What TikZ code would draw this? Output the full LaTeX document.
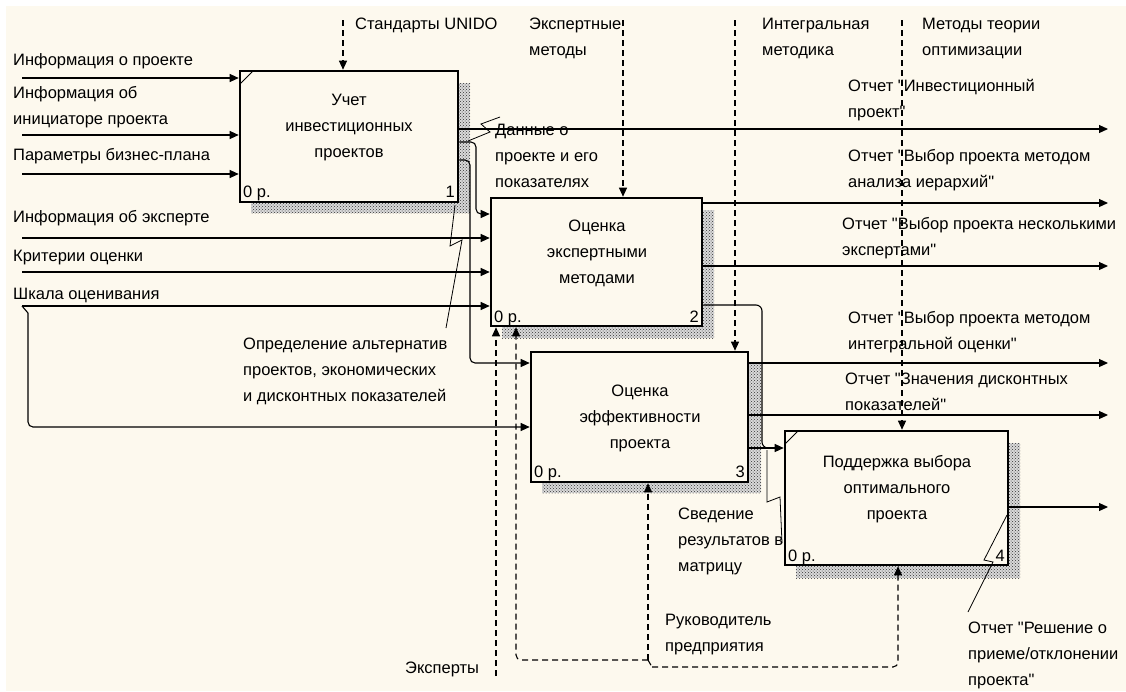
\documentclass[tikz,border=0pt]{standalone}
\usepackage{fontspec}
\setmainfont{Liberation Sans}[Ligatures=TeXOff]
\usetikzlibrary{arrows.meta,patterns}
\definecolor{bg}{RGB}{253,249,238}
\begin{document}
\begin{tikzpicture}[x=1pt,y=-1pt,
  txt/.style={inner sep=0pt, font=\fontsize{16.5}{26}\selectfont, align=left, anchor=base west},
  ctr/.style={inner sep=0pt, font=\fontsize{16.5}{26}\selectfont, align=center, anchor=base},
  box/.style={draw, line width=2.6pt, fill=bg, inner sep=0pt},
  shadebase/.style={fill=black!15},
  shade/.style={pattern=crosshatch dots, pattern color=black!80},
  flow/.style={line width=1.1pt, -{Triangle[length=9pt,width=8pt]}},
  ctl/.style={flow, dash pattern=on 6pt off 4pt},
  plain/.style={line width=1.1pt},
  squig/.style={line width=0.8pt},
]
\useasboundingbox (0,0) rectangle (1126,691);
\fill[white] (0,0) rectangle (1126,691);
\fill[bg] (6,6) rectangle (1126,691);

% shadows
\foreach \a/\b/\c/\d in {251/83/470/213, 502/210/714/338, 542/364/761/493, 796/443/1020/578}{
  \fill[shadebase] (\a,\b) rectangle (\c,\d);
  \fill[shade] (\a,\b) rectangle (\c,\d);
}

% boxes
\node[box, minimum width=218pt, minimum height=131pt] (b1) at (349,136.5) {};
\node[box, minimum width=211pt, minimum height=128pt] (b2) at (596.5,262) {};
\node[box, minimum width=217pt, minimum height=130pt] (b3) at (639.5,417) {};
\node[box, minimum width=223pt, minimum height=134pt] (b4) at (896.5,498) {};
\draw[line width=1pt] (240,84) -- (253,71);
\draw[line width=1pt] (785,444) -- (798,431);

% box texts
\node[ctr] (t1) at (349,157) {Учет\\инвестиционных\\проектов};
\node[ctr] (t2) at (597,283) {Оценка\\экспертными\\методами};
\node[ctr] (t3) at (640,448) {Оценка\\эффективности\\проекта};
\node[ctr] (t4) at (897,519) {Поддержка выбора\\оптимального\\проекта};
\node[txt] (n1a) at (243,197) {0 р.};
\node[txt, anchor=base east] (n1b) at (455,197) {1};
\node[txt] (n2a) at (494,322) {0 р.};
\node[txt, anchor=base east] (n2b) at (699,322) {2};
\node[txt] (n3a) at (534,477) {0 р.};
\node[txt, anchor=base east] (n3b) at (745,477) {3};
\node[txt] (n4a) at (788,561) {0 р.};
\node[txt, anchor=base east] (n4b) at (1005,561) {4};

% inputs
\coordinate (i1) at (22,78);
\coordinate (i2) at (22,135);
\coordinate (i3) at (22,174);
\coordinate (i4) at (22,238);
\coordinate (i5) at (22,272);
\coordinate (i6) at (22,306);
\draw[flow] (i1) -- (i1 -| b1.west);
\draw[flow] (i2) -- (i2 -| b1.west);
\draw[flow] (i3) -- (i3 -| b1.west);
\draw[flow] (i4) -- (i4 -| b2.west);
\draw[flow] (i5) -- (i5 -| b2.west);
\draw[flow] (i6) -- (i6 -| b2.west);
\coordinate (i6b) at (28,313);
\coordinate (i6c) at (28,427);
\draw[plain] (i6) -- (i6b);
\draw[flow, rounded corners=5pt] (i6b) -- (i6c) -- (i6c -| b3.west);
\node[txt] (li1) at (13,65) {Информация о проекте};
\node[txt] (li2) at (13,124) {Информация об\\инициаторе проекта};
\node[txt] (li3) at (13,160) {Параметры бизнес-плана};
\node[txt] (li4) at (13,222) {Информация об эксперте};
\node[txt] (li5) at (13,261) {Критерии оценки};
\node[txt] (li6) at (13,299) {Шкала оценивания};

% controls
\coordinate (c1) at (343,20);
\coordinate (c2) at (623,20);
\coordinate (c3) at (735,20);
\coordinate (c4) at (902,20);
\draw[ctl] (c1) -- (c1 |- b1.north);
\draw[ctl] (c2) -- (c2 |- b2.north);
\draw[ctl] (c3) -- (c3 |- b3.north);
\draw[ctl] (c4) -- (c4 |- b4.north);
\node[txt] (lc1) at (355,29) {Стандарты UNIDO};
\node[txt] (lc2) at (529,55) {Экспертные\\методы};
\node[txt] (lc3) at (762,55) {Интегральная\\методика};
\node[txt] (lc4) at (922,55) {Методы теории\\оптимизации};

% outputs to boundary
\coordinate (o1) at (1108,129);
\coordinate (o2) at (1108,203);
\coordinate (o3) at (1108,266);
\coordinate (o4) at (1108,363);
\coordinate (o5) at (1108,415);
\coordinate (o6) at (1108,507);
\draw[flow] (o1 -| b1.east) -- (o1);
\draw[flow] (o2 -| b2.east) -- (o2);
\draw[flow] (o3 -| b2.east) -- (o3);
\draw[flow] (o4 -| b3.east) -- (o4);
\draw[flow] (o5 -| b3.east) -- (o5);
\draw[flow] (o6 -| b4.east) -- (o6);
\node[txt] (lo1) at (848,117) {Отчет "Инвестиционный\\проект"};
\node[txt] (lo2) at (848,187) {Отчет "Выбор проекта методом\\анализа иерархий"};
\node[txt] (lo3) at (842,255) {Отчет "Выбор проекта несколькими\\экспертами"};
\node[txt] (lo4) at (848,349) {Отчет "Выбор проекта методом\\интегральной оценки"};
\node[txt] (lo5) at (845,410) {Отчет "Значения дисконтных\\показателей"};
\node[txt] (lo6) at (968,685) {Отчет "Решение о\\приеме/отклонении\\проекта"};
\draw[squig] (968,612) -- (993,562) -- (984,560) -- (1007,515);

% internal arrows
\coordinate (k1) at (476,142);
\coordinate (k1b) at (476,214);
\draw[flow, rounded corners=5pt] (k1 -| b1.east) -- (k1) -- (k1b) -- (k1b -| b2.west);
\coordinate (k2) at (470,160);
\coordinate (k2b) at (470,363);
\draw[flow, rounded corners=5pt] (k2 -| b1.east) -- (k2) -- (k2b) -- (k2b -| b3.west);
\coordinate (k3) at (762,305);
\coordinate (k3b) at (762,448);
\draw[plain, rounded corners=6pt] (k3 -| b2.east) -- (k3) -- (k3b) -- (770,448);
\draw[flow] (k3b -| b3.east) -- (k3b -| b4.west);

\node[txt] (ld) at (495,187) {Данные о\\проекте и его\\показателях};
\draw[squig] (500,117) -- (481,124) -- (490,132) -- (468,141);
\node[txt] (la) at (243,401) {Определение альтернатив\\проектов, экономических\\и дисконтных показателей};
\draw[squig] (446,328) -- (462,240) -- (450,246) -- (455,205);
\node[txt] (ls) at (678,571) {Сведение\\результатов в\\матрицу};
\draw[squig] (782,543) -- (780,497) -- (767,502) -- (767,450);

% mechanisms
\coordinate (m1) at (496,676);
\draw[ctl] (m1) -- (m1 |- b2.south);
\node[txt] (lm1) at (405,673) {Эксперты};
\coordinate (f) at (648,660);
\coordinate (f2) at (652,667);
\coordinate (m2) at (516,660);
\coordinate (m3) at (898,667);
\draw[ctl] (f) -- (f |- b3.south);
\draw[ctl, rounded corners=5pt] (f) -- (m2) -- (m2 |- b2.south);
\draw[dash pattern=on 6pt off 4pt, line width=1.1pt] (f) -- (f2);
\draw[ctl, rounded corners=5pt] (f2) -- (m3) -- (m3 |- b4.south);
\node[txt] (lm2) at (665,651) {Руководитель\\предприятия};
\end{tikzpicture}
\end{document}
